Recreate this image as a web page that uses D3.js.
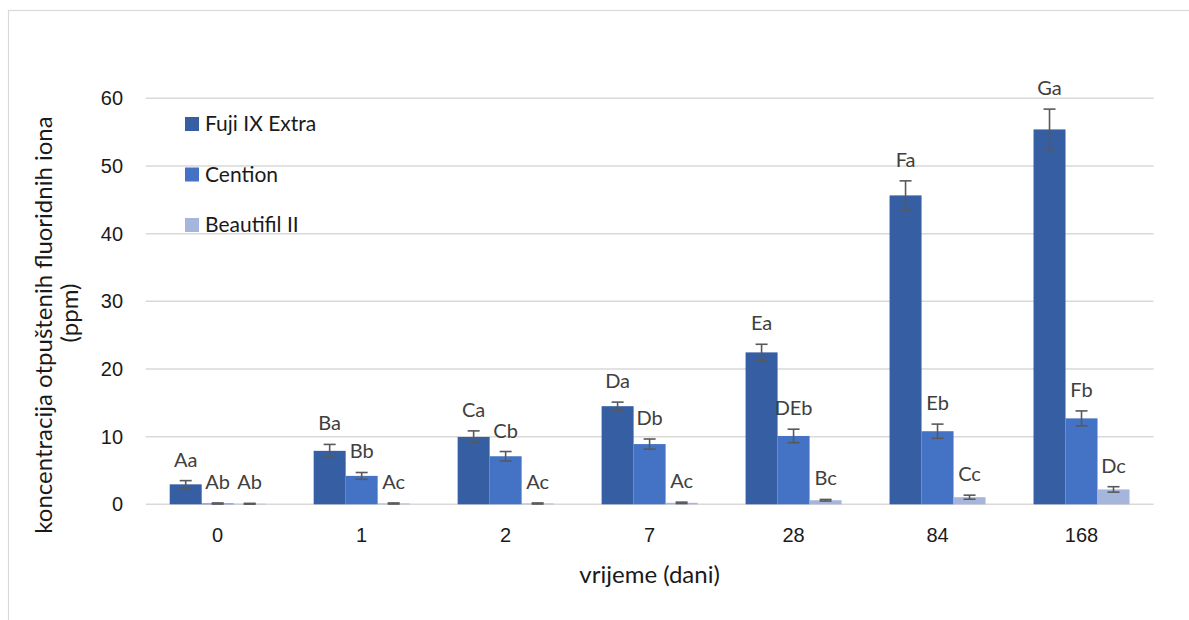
<!DOCTYPE html>
<html>
<head>
<meta charset="utf-8">
<script src="https://cdn.jsdelivr.net/npm/d3@7"></script>
<style>
body {margin:0;background:#fff;}
svg {font-family:Lato, "Open Sans", sans-serif;}
.lbl {font-size:20px;fill:#404040;}
.tick {font-size:20px;fill:#1a1a1a;}
.title {font-size:24px;fill:#1a1a1a;}
.leg {font-size:21px;fill:#1a1a1a;}
</style>
</head>
<body>
<svg id="chart" width="1189" height="620"></svg>
<script>
// days of sampling
var days = ['0', '1', '2', '7', '28', '84', '168']
var materials = ['Fuji IX Extra', 'Cention', 'Beautifil II']
var colors = ['#365ea3', '#4472c4', '#a5b5db']

// mean fluoride release (ppm)
var fuji = [2.95, 7.9, 9.95, 14.5, 22.45, 45.65, 55.4]
var cention = [0.12, 4.2, 7.1, 8.9, 10.1, 10.8, 12.7]
var beautifil = [0.08, 0.12, 0.12, 0.22, 0.6, 1.05, 2.2]

// standard deviations
var fujiSd = [0.55, 0.95, 0.9, 0.6, 1.2, 2.15, 3.0]
var centionSd = [0.08, 0.5, 0.7, 0.75, 1.0, 1.05, 1.1]
var beautifilSd = [0.06, 0.08, 0.08, 0.1, 0.12, 0.3, 0.4]

// significance letters
var fujiLbl = ['Aa', 'Ba', 'Ca', 'Da', 'Ea', 'Fa', 'Ga']
var centionLbl = ['Ab', 'Bb', 'Cb', 'Db', 'DEb', 'Eb', 'Fb']
var beautifilLbl = ['Ab', 'Ac', 'Ac', 'Ac', 'Bc', 'Cc', 'Dc']

var yTicks = [0, 10, 20, 30, 40, 50, 60]

var values = [fuji, cention, beautifil]
var sds = [fujiSd, centionSd, beautifilSd]
var lbls = [fujiLbl, centionLbl, beautifilLbl]

var data = []
materials.forEach(function(m, i) {
  days.forEach(function(d, j) {
    data.push({day: d, mat: m, i: i, v: values[i][j], sd: sds[i][j], lbl: lbls[i][j]})
  })
})

var svg = d3.select('#chart')
var left = 145.7, right = 1153.5

// outer frame of the chart
svg.append('rect').attr('x', 8.5).attr('y', 10.5).attr('width', 1300).attr('height', 800)
  .attr('fill', 'none').attr('stroke', '#d9d9d9').attr('stroke-width', 1.2)

var x0 = d3.scaleBand().domain(days).range([left, right])
var x1 = d3.scaleBand().domain(materials).range([0, x0.bandwidth()]).paddingOuter(0.75)
var y = d3.scaleLinear().domain([0, 60]).range([504.3, 98.3])

// gridlines
svg.append('g').selectAll('line').data(yTicks).enter().append('line')
  .attr('x1', left).attr('x2', right)
  .attr('y1', function(d) { return y(d) }).attr('y2', function(d) { return y(d) })
  .attr('stroke', '#d9d9d9').attr('stroke-width', 1.5)

// y axis labels
var yAxis = svg.append('g').attr('transform', 'translate(' + left + ',0)')
  .call(d3.axisLeft(y).tickValues(yTicks).tickSize(0).tickPadding(22.7))
yAxis.select('.domain').remove()
yAxis.selectAll('text').attr('class', 'tick').attr('fill', null).attr('font-family', null).attr('font-size', null)

// x axis labels
var xAxis = svg.append('g').attr('transform', 'translate(0,504.3)')
  .call(d3.axisBottom(x0).tickSize(0))
xAxis.select('.domain').remove()
xAxis.selectAll('text').attr('class', 'tick').attr('fill', null).attr('font-family', null).attr('font-size', null)
  .attr('dy', null).attr('y', 37.4)

// bars
svg.append('g').selectAll('rect').data(data).enter().append('rect')
  .attr('x', function(d) { return x0(d.day) + x1(d.mat) })
  .attr('width', x1.bandwidth())
  .attr('y', function(d) { return y(d.v) })
  .attr('height', function(d) { return y(0) - y(d.v) })
  .attr('fill', function(d) { return colors[d.i] })

// error bars
var eb = svg.append('g').attr('stroke', '#595959').attr('stroke-width', 1.6)
data.forEach(function(d) {
  var cx = x0(d.day) + x1(d.mat) + x1.bandwidth() / 2
  var lo = Math.max(0, d.v - d.sd), hi = d.v + d.sd
  eb.append('line').attr('x1', cx).attr('x2', cx).attr('y1', y(lo)).attr('y2', y(hi))
  eb.append('line').attr('x1', cx - 6).attr('x2', cx + 6).attr('y1', y(hi)).attr('y2', y(hi))
  eb.append('line').attr('x1', cx - 6).attr('x2', cx + 6).attr('y1', y(lo)).attr('y2', y(lo))
})

// letter labels
svg.append('g').selectAll('text').data(data).enter().append('text')
  .attr('class', 'lbl')
  .attr('text-anchor', 'middle')
  .attr('x', function(d) { return x0(d.day) + x1(d.mat) + x1.bandwidth() / 2 })
  .attr('y', function(d) { return y(d.v + d.sd) - 14 })
  .text(function(d) { return d.lbl })

// legend
var leg = svg.append('g')
materials.forEach(function(m, i) {
  leg.append('rect').attr('x', 185).attr('y', 117 + i * 50.5).attr('width', 14).attr('height', 14).attr('fill', colors[i])
  leg.append('text').attr('class', 'leg').attr('x', 205).attr('y', 131 + i * 50.5).text(m)
})

// axis titles
svg.append('text').attr('class', 'title').attr('text-anchor', 'middle')
  .attr('x', (left + right) / 2).attr('y', 583).text('vrijeme (dani)')
svg.append('text').attr('class', 'title').attr('text-anchor', 'middle')
  .attr('transform', 'translate(52,325) rotate(-90)').text('koncentracija otpuštenih fluoridnih iona')
svg.append('text').attr('class', 'title').attr('text-anchor', 'middle')
  .attr('transform', 'translate(78,313) rotate(-90)').text('(ppm)')
</script>
</body>
</html>
